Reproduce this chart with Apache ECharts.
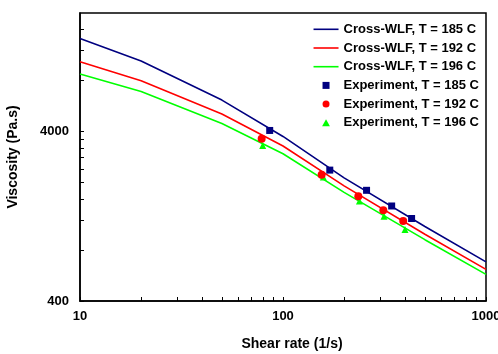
<!DOCTYPE html>
<html>
<head>
<meta charset="utf-8">
<script src="https://cdn.jsdelivr.net/npm/echarts@6/dist/echarts.min.js"></script>
<style>html,body{margin:0;padding:0;background:#fff;}#c{width:498px;height:354px;}</style>
</head>
<body>
<div id="c"></div>
<script>
// ---- data ----
const shearModel = [10, 20, 50, 100, 200, 500, 1000];
const wlf185 = [14160, 10420, 6128, 3739, 2131, 1100, 681];
const wlf192 = [10330, 7970, 5071, 3286, 1912, 991, 615];
const wlf196 = [8740, 6880, 4459, 2957, 1750, 920, 574];

const shearExp185 = [86, 170, 258, 343, 430];
const viscExp185 = [4056, 2367, 1799, 1454, 1227];
const shearExp192 = [78.5, 155, 235, 312, 391];
const viscExp192 = [3624, 2225, 1658, 1372, 1187];
const shearExp196 = [79.4, 158, 238, 314.5, 399];
const viscExp196 = [3309, 2155, 1556, 1265, 1056];

const xTickValues = [10, 20, 30, 40, 50, 60, 70, 80, 90, 100, 200, 300, 400, 500, 600, 700, 800, 900, 1000];
const xLabelValues = [10, 100, 1000];
const yTickValues = [400, 800, 1200, 1600, 2000, 2400, 2800, 3200, 3600, 4000, 8000, 12000, 16000];
const yLabelValues = [400, 4000];

const names = ['Cross-WLF, T = 185 C', 'Cross-WLF, T = 192 C', 'Cross-WLF, T = 196 C',
  'Experiment, T = 185 C', 'Experiment, T = 192 C', 'Experiment, T = 196 C'];

const zip = (a, b) => a.map((v, i) => [v, b[i]]);
const FONT = "'Liberation Sans', Arial, sans-serif";
const NAVY = '#000080', RED = '#ff0000', GREEN = '#00ff00';
const LINE_ICON = 'path://M0,0H25V1.6H0Z';

const chart = echarts.init(document.getElementById('c'), null, {renderer: 'canvas'});
chart.setOption({
  animation: false,
  backgroundColor: '#fff',
  grid: {left: 80, right: 12, top: 13, bottom: 53, outerBoundsMode: 'none', containLabel: false,
    show: true, borderColor: '#000', borderWidth: 1.5, backgroundColor: 'transparent'},
  legend: {
    orient: 'vertical', right: 19, top: 21.8, padding: 0,
    itemWidth: 25, itemHeight: 7, itemGap: 3.7, symbolKeepAspect: true,
    textStyle: {fontFamily: FONT, fontWeight: 'bold', fontSize: 13, color: '#000', lineHeight: 15},
    data: [
      {name: names[0], icon: LINE_ICON}, {name: names[1], icon: LINE_ICON}, {name: names[2], icon: LINE_ICON},
      {name: names[3], icon: 'path://M0,0H1V1H0Z'}, {name: names[4], icon: 'circle'}, {name: names[5], icon: 'path://M5,0L10,9L0,9Z'}
    ]
  },
  xAxis: {
    type: 'log', logBase: 10, min: 10, max: 1000,
    name: 'Shear rate (1/s)', nameLocation: 'middle', nameGap: 36,
    nameTextStyle: {fontFamily: FONT, fontWeight: 'bold', fontSize: 14, color: '#000', padding: [0, 0, 0, 18]},
    axisLine: {show: true, lineStyle: {color: '#000', width: 1.5}},
    axisTick: {show: true, inside: true, length: 4, lineStyle: {color: '#000', width: 1}, customValues: xTickValues},
    axisLabel: {show: true, margin: 9, customValues: xLabelValues, fontFamily: FONT, fontWeight: 'bold', fontSize: 13, color: '#000',
      formatter: v => String(Math.round(v))},
    splitLine: {show: false}, minorTick: {show: false}
  },
  yAxis: {
    type: 'log', logBase: 10, min: 400, max: 20000,
    name: 'Viscosity (Pa.s)', nameLocation: 'middle', nameGap: 60,
    nameTextStyle: {fontFamily: FONT, fontWeight: 'bold', fontSize: 14, color: '#000'},
    axisLine: {show: true, lineStyle: {color: '#000', width: 1.5}},
    axisTick: {show: true, inside: true, length: 4, lineStyle: {color: '#000', width: 1}, customValues: yTickValues},
    axisLabel: {show: true, margin: 11, customValues: yLabelValues, fontFamily: FONT, fontWeight: 'bold', fontSize: 13, color: '#000',
      formatter: v => String(Math.round(v))},
    splitLine: {show: false}, minorTick: {show: false}
  },
  series: [
    {name: names[0], type: 'line', data: zip(shearModel, wlf185), symbol: 'none', lineStyle: {color: NAVY, width: 1.6}, itemStyle: {color: NAVY}},
    {name: names[1], type: 'line', data: zip(shearModel, wlf192), symbol: 'none', lineStyle: {color: RED, width: 1.6}, itemStyle: {color: RED}},
    {name: names[2], type: 'line', data: zip(shearModel, wlf196), symbol: 'none', lineStyle: {color: GREEN, width: 1.6}, itemStyle: {color: GREEN}},
    {name: names[3], type: 'scatter', data: zip(shearExp185, viscExp185), symbol: 'rect', symbolSize: 7, itemStyle: {color: NAVY, opacity: 1}, z: 5},
    {name: names[4], type: 'scatter', data: zip(shearExp192, viscExp192), symbol: 'circle', symbolSize: 8, itemStyle: {color: RED, opacity: 1}, z: 4},
    {name: names[5], type: 'scatter', data: zip(shearExp196, viscExp196), symbol: 'triangle', symbolSize: 7, itemStyle: {color: GREEN, opacity: 1}, z: 3}
  ]
});
</script>
</body>
</html>
